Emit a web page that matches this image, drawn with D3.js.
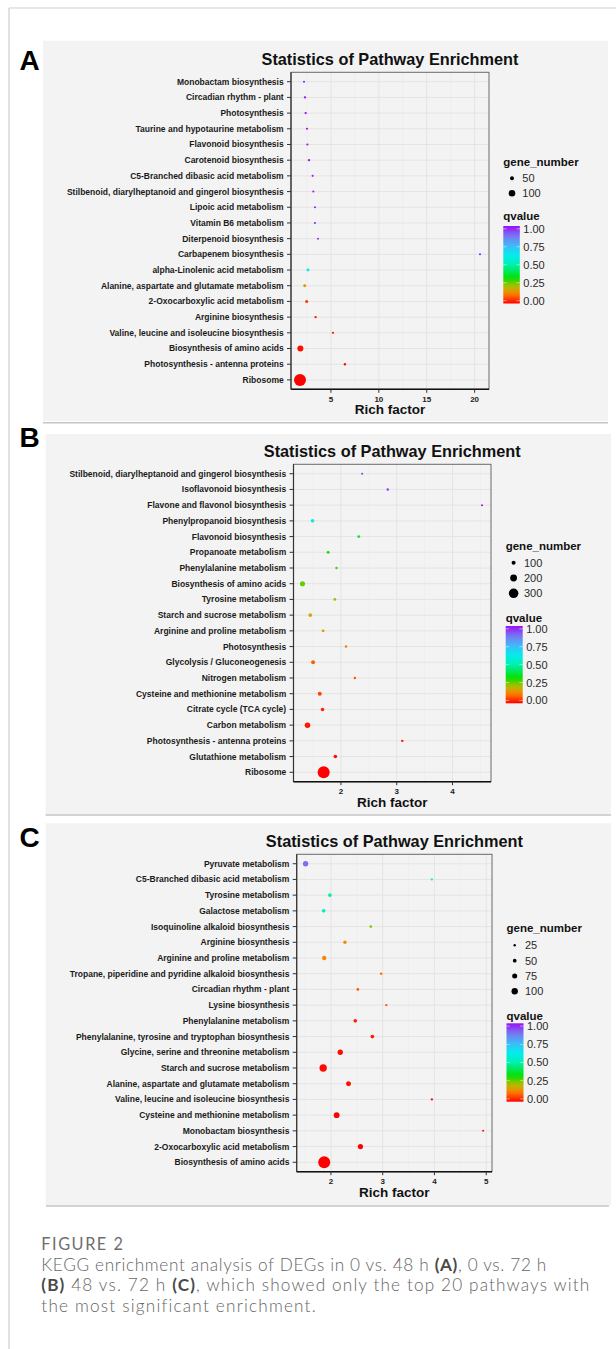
<!DOCTYPE html>
<html><head><meta charset="utf-8">
<script src="https://cdn.jsdelivr.net/npm/d3@7"></script>
<style>body{margin:0;background:#fff}svg{display:block}</style>
</head><body><svg id="fig" width="616" height="1349"></svg>
<script>
// ---------- DATA ----------
const pathwaysA = ["Monobactam biosynthesis","Circadian rhythm - plant","Photosynthesis","Taurine and hypotaurine metabolism","Flavonoid biosynthesis","Carotenoid biosynthesis","C5-Branched dibasic acid metabolism","Stilbenoid, diarylheptanoid and gingerol biosynthesis","Lipoic acid metabolism","Vitamin B6 metabolism","Diterpenoid biosynthesis","Carbapenem biosynthesis","alpha-Linolenic acid metabolism","Alanine, aspartate and glutamate metabolism","2-Oxocarboxylic acid metabolism","Arginine biosynthesis","Valine, leucine and isoleucine biosynthesis","Biosynthesis of amino acids","Photosynthesis - antenna proteins","Ribosome"];
const richA  = [2.19,2.29,2.36,2.50,2.54,2.71,3.09,3.16,3.33,3.33,3.65,20.56,2.60,2.26,2.47,3.40,5.21,1.81,6.46,1.77];
const genesA = [12,18,18,15,15,18,14,14,13,12,12,12,31,30,32,20,16,89,20,204];
const qA     = [1.0,1.0,1.0,0.99,0.99,0.99,0.98,0.98,0.98,0.98,0.96,0.99,0.60,0.15,0.05,0.03,0.02,0.01,0.01,0.0];

const pathwaysB = ["Stilbenoid, diarylheptanoid and gingerol biosynthesis","Isoflavonoid biosynthesis","Flavone and flavonol biosynthesis","Phenylpropanoid biosynthesis","Flavonoid biosynthesis","Propanoate metabolism","Phenylalanine metabolism","Biosynthesis of amino acids","Tyrosine metabolism","Starch and sucrose metabolism","Arginine and proline metabolism","Photosynthesis","Glycolysis / Gluconeogenesis","Nitrogen metabolism","Cysteine and methionine metabolism","Citrate cycle (TCA cycle)","Carbon metabolism","Photosynthesis - antenna proteins","Glutathione metabolism","Ribosome"];
const richB  = [2.38,2.84,4.53,1.49,2.32,1.77,1.92,1.31,1.89,1.45,1.68,2.09,1.50,2.25,1.62,1.67,1.40,3.10,1.90,1.69];
const genesB = [26,41,26,82,55,55,41,139,55,82,55,41,96,41,96,82,153,41,82,389];
const qB     = [0.96,0.95,1.0,0.60,0.38,0.33,0.30,0.27,0.24,0.18,0.16,0.11,0.09,0.08,0.06,0.03,0.02,0.02,0.01,0.0];

const pathwaysC = ["Pyruvate metabolism","C5-Branched dibasic acid metabolism","Tyrosine metabolism","Galactose metabolism","Isoquinoline alkaloid biosynthesis","Arginine biosynthesis","Arginine and proline metabolism","Tropane, piperidine and pyridine alkaloid biosynthesis","Circadian rhythm - plant","Lysine biosynthesis","Phenylalanine metabolism","Phenylalanine, tyrosine and tryptophan biosynthesis","Glycine, serine and threonine metabolism","Starch and sucrose metabolism","Alanine, aspartate and glutamate metabolism","Valine, leucine and isoleucine biosynthesis","Cysteine and methionine metabolism","Monobactam biosynthesis","2-Oxocarboxylic acid metabolism","Biosynthesis of amino acids"];
const richC  = [1.51,3.95,1.98,1.86,2.77,2.27,1.87,2.97,2.52,3.07,2.47,2.80,2.18,1.85,2.34,3.95,2.11,4.94,2.57,1.87];
const genesC = [80,22,49,49,30,43,62,30,30,24,49,49,80,118,74,24,89,18,78,205];
const qC     = [0.88,0.62,0.50,0.52,0.25,0.14,0.13,0.11,0.08,0.09,0.03,0.02,0.01,0.01,0.01,0.01,0.0,0.01,0.0,0.0];

const xTicksA = [5,10,15,20];
const xTicksB = [2,3,4];
const xTicksC = [2,3,4,5];
const sizeBreaksA = [50,100];
const sizeBreaksB = [100,200,300];
const sizeBreaksC = [25,50,75,100];
const qTicks = [0,0.25,0.5,0.75,1];

const panelLabels = ["A","B","C"];
const plotTitle = "Statistics of Pathway Enrichment";
const xTitle = "Rich factor";
const sizeTitle = "gene_number";
const colorTitle = "qvalue";
const captionHead = "FIGURE 2";
const captionLines = [
  [["KEGG enrichment analysis of DEGs in 0 vs. 48 h ",false],["(A)",true],[", 0 vs. 72 h",false]],
  [["(B)",true],[" 48 vs. 72 h ",false],["(C)",true],[", which showed only the top 20 pathways with",false]],
  [["the most significant enrichment.",false]]
];

// ---------- STYLE / LAYOUT ----------
const qStops  = [0,0.12,0.22,0.33,0.5,0.62,0.75,0.87,1];
const qColors = ["#ff0000","#ff7f00","#b4bf00","#00e000","#00f0b0","#00eeee","#40b8f8","#7878f0","#9a10f8"];
const color = d3.scaleLinear().domain(qStops).range(qColors).interpolate(d3.interpolateRgb).clamp(true);

const FONT = "'Liberation Sans', Arial, Helvetica, sans-serif";
const layouts = [
  {bg:[43,40.7,608,421], sep:[43,608,422.7], label:[19.5,70], plot:[291,72.3,489,389.3],
   leg:{x:503.3,gTitleY:165.5,dotX:512,dotY0:178.3,dotStep:15,qTitleY:220,bar:[503.3,226,16.5,77.5]}},
  {bg:[45.6,434,611,814], sep:[45.6,611,815], label:[19.5,446.8], plot:[293.5,464.3,491,781.7],
   leg:{x:505.7,gTitleY:550,dotX:513.6,dotY0:562.7,dotStep:15.3,qTitleY:622,bar:[505.7,626,17,77.3]}},
  {bg:[45.6,823.3,611,1205], sep:[46,609,1206], label:[19.5,847.3], plot:[296.7,854.3,492,1171.7],
   leg:{x:506.5,gTitleY:932,dotX:514.7,dotY0:945.3,dotStep:15.33,qTitleY:1019.5,bar:[506.5,1023.3,17,78.4]}}
];
const panels = [
  {paths:pathwaysA, rich:richA, genes:genesA, q:qA, xt:xTicksA, sb:sizeBreaksA},
  {paths:pathwaysB, rich:richB, genes:genesB, q:qB, xt:xTicksB, sb:sizeBreaksB},
  {paths:pathwaysC, rich:richC, genes:genesC, q:qC, xt:xTicksC, sb:sizeBreaksC}
];

const svg = d3.select("#fig");
svg.append("rect").attr("width",616).attr("height",1349).attr("fill","#fff");
svg.append("line").attr("x1",9).attr("x2",616).attr("y1",8).attr("y2",8).attr("stroke","#cfcfcf").attr("stroke-width",1.2);
svg.append("line").attr("x1",9).attr("x2",9).attr("y1",8).attr("y2",1349).attr("stroke","#cfcfcf").attr("stroke-width",1.2);

const defs = svg.append("defs");
const grad = defs.append("linearGradient").attr("id","qgrad").attr("x1",0).attr("y1",1).attr("x2",0).attr("y2",0);
d3.range(0,1.0001,0.05).forEach(t=>grad.append("stop").attr("offset",t).attr("stop-color",color(t)));

panels.forEach((p,i)=>{
  const L = layouts[i];
  const g = svg.append("g");
  g.append("rect").attr("x",L.bg[0]).attr("y",L.bg[1]).attr("width",L.bg[2]-L.bg[0]).attr("height",L.bg[3]-L.bg[1]).attr("fill","#f3f3f3");
  g.append("line").attr("x1",L.sep[0]).attr("x2",L.sep[1]).attr("y1",L.sep[2]).attr("y2",L.sep[2]).attr("stroke","#c4c4c4").attr("stroke-width",1.6);
  g.append("text").attr("x",L.label[0]).attr("y",L.label[1]).text(panelLabels[i])
    .attr("font-family",FONT).attr("font-weight","bold").attr("font-size",28).attr("fill","#000");

  const [x0,y0,x1,y1] = L.plot;
  const ext = d3.extent(p.rich), pad = (ext[1]-ext[0])*0.05;
  const x = d3.scaleLinear().domain([ext[0]-pad, ext[1]+pad]).range([x0,x1]);
  const y = d3.scalePoint().domain(p.paths).range([y0,y1]).padding(0.6);
  const r = d3.scaleLinear().domain(d3.extent(p.genes)).range([1,6]);

  const step = p.xt[1]-p.xt[0];
  const minor = d3.range(p.xt[0]-step*1.5, p.xt[p.xt.length-1]+step, step).filter(v=>v>x.domain()[0]&&v<x.domain()[1]);
  g.selectAll(".gmin").data(minor).join("line").attr("x1",d=>x(d)).attr("x2",d=>x(d)).attr("y1",y0).attr("y2",y1)
    .attr("stroke","#ebebeb").attr("stroke-width",0.6);
  g.selectAll(".gx").data(p.xt).join("line").attr("x1",d=>x(d)).attr("x2",d=>x(d)).attr("y1",y0).attr("y2",y1)
    .attr("stroke","#e4e4e4").attr("stroke-width",1);
  g.selectAll(".gy").data(p.paths).join("line").attr("x1",x0).attr("x2",x1).attr("y1",d=>y(d)).attr("y2",d=>y(d))
    .attr("stroke","#e4e4e4").attr("stroke-width",1);

  g.append("rect").attr("x",x0).attr("y",y0).attr("width",x1-x0).attr("height",y1-y0).attr("fill","none").attr("stroke","#6a6a6a").attr("stroke-width",1);
  g.append("line").attr("x1",x0).attr("x2",x1).attr("y1",y1).attr("y2",y1).attr("stroke","#111").attr("stroke-width",1.6);
  g.append("line").attr("x1",x0).attr("x2",x0).attr("y1",y0).attr("y2",y1).attr("stroke","#333").attr("stroke-width",1.2);

  const idx = d3.range(p.paths.length).sort((a,b)=>p.genes[b]-p.genes[a]);
  g.selectAll(".pt").data(idx).join("circle")
    .attr("cx",k=>x(p.rich[k])).attr("cy",k=>y(p.paths[k])).attr("r",k=>r(p.genes[k])).attr("fill",k=>color(p.q[k]));

  g.selectAll(".yt").data(p.paths).join("line").attr("x1",x0-4).attr("x2",x0).attr("y1",d=>y(d)).attr("y2",d=>y(d))
    .attr("stroke","#333").attr("stroke-width",1);
  g.selectAll(".yl").data(p.paths).join("text").attr("x",x0-7.3).attr("y",d=>y(d)).attr("dy","0.35em")
    .attr("text-anchor","end").attr("font-family",FONT).attr("font-weight","bold").attr("font-size",8.5).attr("fill","#1a1a1a").text(d=>d);
  g.selectAll(".xt").data(p.xt).join("line").attr("x1",d=>x(d)).attr("x2",d=>x(d)).attr("y1",y1).attr("y2",y1+3.5)
    .attr("stroke","#333").attr("stroke-width",1);
  g.selectAll(".xl").data(p.xt).join("text").attr("x",d=>x(d)).attr("y",y1+12.4).attr("text-anchor","middle")
    .attr("font-family",FONT).attr("font-weight","bold").attr("font-size",8).attr("fill","#222").text(d=>d);
  g.append("text").attr("x",(x0+x1)/2).attr("y",y1+25).attr("text-anchor","middle").attr("font-family",FONT)
    .attr("font-weight","bold").attr("font-size",13.5).attr("fill","#111").text(xTitle);
  g.append("text").attr("x",(x0+x1)/2).attr("y",y0-7).attr("text-anchor","middle").attr("font-family",FONT)
    .attr("font-weight","bold").attr("font-size",16.3).attr("fill","#111").text(plotTitle);

  const lg = L.leg;
  g.append("text").attr("x",lg.x).attr("y",lg.gTitleY).attr("font-family",FONT).attr("font-weight","bold").attr("font-size",11.5).attr("fill","#111").text(sizeTitle);
  p.sb.forEach((v,j)=>{
    const cy = lg.dotY0 + j*lg.dotStep;
    g.append("circle").attr("cx",lg.dotX).attr("cy",cy).attr("r",r(v)).attr("fill","#000");
    g.append("text").attr("x",lg.dotX+10.3).attr("y",cy).attr("dy","0.36em").attr("font-family",FONT).attr("font-size",11).attr("fill","#2a2a2a").text(v);
  });
  g.append("text").attr("x",lg.x).attr("y",lg.qTitleY).attr("font-family",FONT).attr("font-weight","bold").attr("font-size",11.5).attr("fill","#111").text(colorTitle);
  const [bx,by,bw,bh] = lg.bar;
  g.append("rect").attr("x",bx).attr("y",by).attr("width",bw).attr("height",bh).attr("fill","url(#qgrad)");
  const qy = d3.scaleLinear().domain([0,1]).range([by+bh-2.8, by+2.8]);
  qTicks.forEach(t=>{
    g.append("line").attr("x1",bx).attr("x2",bx+bw*0.2).attr("y1",qy(t)).attr("y2",qy(t)).attr("stroke","#fff").attr("stroke-width",0.6).attr("opacity",0.8);
    g.append("line").attr("x1",bx+bw*0.8).attr("x2",bx+bw).attr("y1",qy(t)).attr("y2",qy(t)).attr("stroke","#fff").attr("stroke-width",0.6).attr("opacity",0.8);
    g.append("text").attr("x",bx+bw+3.5).attr("y",qy(t)).attr("dy","0.36em").attr("font-family",FONT).attr("font-size",11).attr("fill","#2a2a2a").text(t.toFixed(2));
  });
});

// ---------- CAPTION ----------
const CF = "Lato, 'Open Sans', sans-serif";
function fit(t, target){
  const w = t.node().getComputedTextLength();
  const n = t.text().length;
  t.attr("letter-spacing", (target - w)/(n-1));
}
const head = svg.append("text").attr("x",41.3).attr("y",1250.3).attr("font-family",CF).attr("font-size",16.3).attr("fill","#6e6e6e").text(captionHead);
fit(head, 81.7);
const capBase = [1270.5,1291.3,1312];
const capTargets = [505, 548, 274];
captionLines.forEach((segs,li)=>{
  const t = svg.append("text").attr("x",41.3).attr("y",capBase[li]).attr("font-family",CF).attr("font-size",17.2).attr("fill","#666");
  segs.forEach(([s,b])=>t.append("tspan").text(s).attr("font-weight",b?"bold":"300").attr("fill",b?"#4a4a4a":"#666"));
  fit(t, capTargets[li]);
});
</script></body></html>
